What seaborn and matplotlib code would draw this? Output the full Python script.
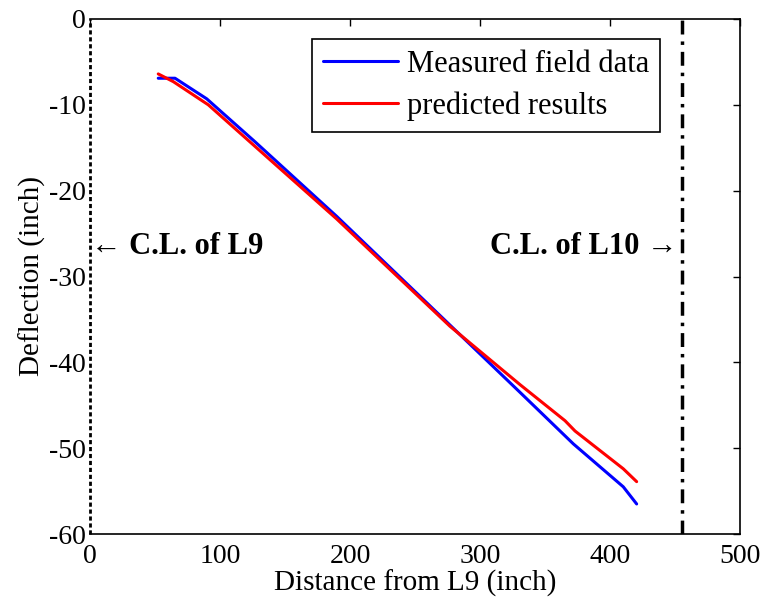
import matplotlib
matplotlib.use("Agg")
import matplotlib.pyplot as plt
import seaborn as sns
import pandas as pd

# Data
measured_x = [52.5, 65.4, 89.8, 126.9, 189.8, 260.0, 330.8, 371.8, 410.2, 420.5]
measured_y = [-6.9, -6.9, -9.3, -14.3, -23.0, -33.2, -43.5, -49.5, -54.5, -56.5]
predicted_x = [52.5, 64.1, 91.0, 140.0, 189.8, 276.9, 330.8, 365.4, 373.1, 410.2, 420.5]
predicted_y = [-6.4, -7.3, -10.0, -16.6, -23.3, -35.8, -42.6, -46.8, -48.0, -52.4, -53.9]
series_names = ["Measured field data", "predicted results"]
series_colors = ["#0000ff", "#ff0000"]
cl_l9_x = 0
cl_l10_x = 455
xlim = (0, 500)
ylim = (-60, 0)
xticks = [0, 100, 200, 300, 400, 500]
yticks = [-60, -50, -40, -30, -20, -10, 0]

df = pd.concat([
    pd.DataFrame({"x": measured_x, "y": measured_y, "series": series_names[0]}),
    pd.DataFrame({"x": predicted_x, "y": predicted_y, "series": series_names[1]}),
], ignore_index=True)

sns.set_style("white")
plt.rcParams["font.family"] = ["Liberation Serif", "DejaVu Serif"]
plt.rcParams["axes.unicode_minus"] = False
plt.rcParams["text.color"] = "black"
plt.rcParams["axes.labelcolor"] = "black"
plt.rcParams["xtick.color"] = "black"
plt.rcParams["ytick.color"] = "black"

fig = plt.figure(figsize=(7.69, 6.0), dpi=100)
ax = fig.add_axes([90 / 769, 66 / 600, 650 / 769, 515 / 600])

sns.lineplot(data=df, x="x", y="y", hue="series", palette=series_colors,
             hue_order=series_names, sort=False, estimator=None, lw=2.2, ax=ax)

ax.set_xlim(*xlim)
ax.set_ylim(*ylim)
ax.set_xticks(xticks)
ax.set_yticks(yticks)
ax.tick_params(direction="in", length=5, width=1, top=True, right=True,
               labelsize=20, colors="black")
ax.tick_params(axis="x", pad=7)
ax.tick_params(axis="y", pad=3)
for s in ["top", "right", "bottom"]:
    ax.spines[s].set_color("black")
    ax.spines[s].set_linewidth(1.2)
ax.spines["left"].set_visible(False)

# center-line markers
ax.axvline(cl_l9_x, color="black", lw=2, ls=(0, (1.5, 1)), clip_on=False, zorder=5)
ax.axvline(cl_l10_x, color="black", lw=2.5, ls=(0, (4, 2, 1, 2)), zorder=5)

ax.text(1.0, -26.5, "\u2190 C.L. of L9", fontsize=22, fontweight="bold",
        ha="left", va="center", color="black")
ax.text(452, -26.5, "C.L. of L10 \u2192", fontsize=22, fontweight="bold",
        ha="right", va="center", color="black")

ax.set_xlabel("Distance from L9 (inch)", fontsize=21, labelpad=1)
ax.set_ylabel("Deflection (inch)", fontsize=21, labelpad=2)

leg = ax.legend(loc="upper right", bbox_to_anchor=(660 / 769, 1 - 39 / 600),
                bbox_transform=fig.transFigure, fontsize=22, frameon=True,
                fancybox=False, framealpha=1, edgecolor="black",
                borderaxespad=0, handlelength=2.45, handletextpad=0.3,
                borderpad=0.35, labelspacing=0.42, title=None)
leg.get_frame().set_linewidth(1.2)
for h in leg.get_lines():
    h.set_linewidth(2.2)
for t in leg.get_texts():
    t.set_color("black")

fig.savefig("out.png", dpi=100)
